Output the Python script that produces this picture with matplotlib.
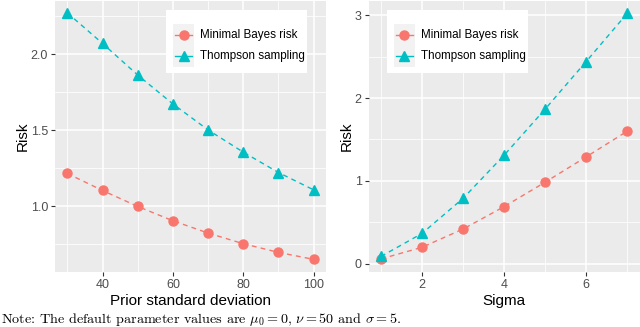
import numpy as np
import matplotlib
matplotlib.use('Agg')
import matplotlib.pyplot as plt
from matplotlib.ticker import MultipleLocator, FormatStrFormatter
from matplotlib.patches import Rectangle

plt.rcParams['font.family'] = ['Liberation Sans', 'DejaVu Sans']
plt.rcParams['mathtext.fontset'] = 'cm'

# data
prior_sd = [30, 40, 50, 60, 70, 80, 90, 100]
bayes_prior = [1.217, 1.105, 1.0, 0.906, 0.825, 0.755, 0.698, 0.652]
thompson_prior = [2.273, 2.072, 1.864, 1.674, 1.503, 1.357, 1.223, 1.109]

sigma = [1, 2, 3, 4, 5, 6, 7]
bayes_sigma = [0.06, 0.2, 0.42, 0.69, 0.985, 1.29, 1.6]
thompson_sigma = [0.09, 0.367, 0.79, 1.31, 1.866, 2.44, 3.02]

labels = ['Minimal Bayes risk', 'Thompson sampling']
red = '#F8766D'
cyan = '#00BFC4'
dash = (0, (3.5, 3))

fig = plt.figure(figsize=(6.4, 3.27), dpi=100)
ax1 = fig.add_axes([55/640, 55/327, 271/640, 271/327])
ax2 = fig.add_axes([368.7/640, 55/327, 270.8/640, 271/327])


def style(ax, xmaj, xmin, ymaj, ymin):
  ax.set_facecolor('#EBEBEB')
  for s in ax.spines.values():
    s.set_visible(False)
  ax.xaxis.set_major_locator(MultipleLocator(xmaj))
  ax.xaxis.set_minor_locator(MultipleLocator(xmin))
  ax.yaxis.set_major_locator(MultipleLocator(ymaj))
  ax.yaxis.set_minor_locator(MultipleLocator(ymin))
  ax.grid(True, which='major', color='white', linewidth=1.1)
  ax.grid(True, which='minor', color='white', linewidth=0.55)
  ax.set_axisbelow(True)
  ax.tick_params(which='major', length=3, width=0.8, color='#333333',
                 labelcolor='#4D4D4D', labelsize=9, pad=2)
  ax.tick_params(which='minor', length=0)


def legend_box(ax, left_px):
  # ggplot style legend, positions in pixels inside the 271 px panel
  w = 271.0
  tr = ax.transAxes
  ax.add_patch(Rectangle((left_px / w, 199 / w), 141 / w, 63 / w, transform=tr,
                         facecolor='white', edgecolor='none', zorder=5, clip_on=False))
  styles = [(red, 'o', 6.5), (cyan, '^', 7.5)]
  for i, (c, m, ms) in enumerate(styles):
    ytop = 248 - 21.5 * i
    ax.add_patch(Rectangle(((left_px + 7) / w, (ytop - 21.5) / w), 21 / w, 21.5 / w,
                           transform=tr, facecolor='#F2F2F2', edgecolor='none',
                           zorder=6, clip_on=False))
    yc = (ytop - 10.75) / w
    ax.plot([(left_px + 9) / w, (left_px + 26) / w], [yc, yc], transform=tr, color=c,
            linestyle='-', linewidth=1.0, zorder=7, clip_on=False)
    ax.plot([(left_px + 17.5) / w], [yc], transform=tr, color=c, marker=m,
            markersize=ms, zorder=8, clip_on=False, linestyle='none')
    ax.text((left_px + 34) / w, yc, labels[i], transform=tr, fontsize=8.4,
            va='center', ha='left', color='black', zorder=8)


def panel(ax, x, b, t):
  ax.plot(x, b, color=red, linestyle=dash, linewidth=1.0, marker='o', markersize=6.5)
  ax.plot(x, t, color=cyan, linestyle=dash, linewidth=1.0, marker='^', markersize=7.5)
  ax.set_ylabel('Risk', fontsize=11, labelpad=1)


panel(ax1, prior_sd, bayes_prior, thompson_prior)
style(ax1, 20, 10, 0.5, 0.25)
ax1.set_xlim(26.5, 103.5)
ax1.set_ylim(0.569, 2.351)
ax1.yaxis.set_major_formatter(FormatStrFormatter('%.1f'))
ax1.set_xlabel('Prior standard deviation', fontsize=11, labelpad=2)
legend_box(ax1, 111)

panel(ax2, sigma, bayes_sigma, thompson_sigma)
style(ax2, 2, 1, 1, 0.5)
ax2.set_xlim(0.7, 7.3)
ax2.set_ylim(-0.098, 3.17)
ax2.set_xlabel('Sigma', fontsize=11, labelpad=2)
legend_box(ax2, 18)

fig.text(1/640, 8/327, r'Note: The default parameter values are $\mu_0 = 0$, $\nu = 50$ and $\sigma = 5$.',
         family='cmr10', fontsize=10.2, va='center', ha='left')

fig.savefig('out.png', dpi=100)
